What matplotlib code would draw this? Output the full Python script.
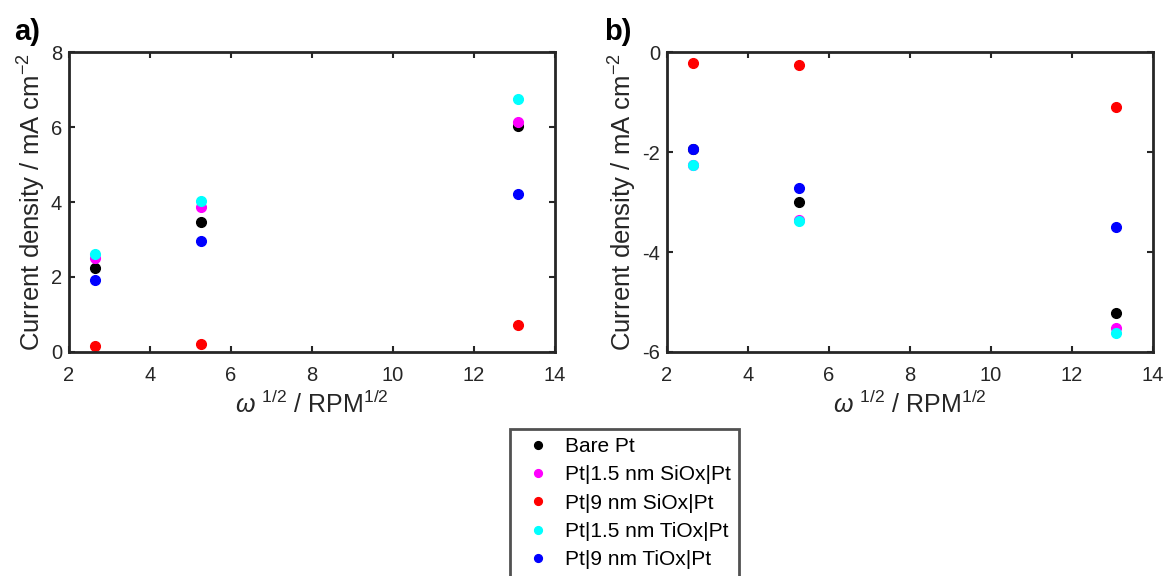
import matplotlib
matplotlib.use("Agg")
import matplotlib.pyplot as plt

plt.rcParams['font.family'] = ['Liberation Sans', 'DejaVu Sans']
plt.rcParams['mathtext.fontset'] = 'custom'
plt.rcParams['mathtext.rm'] = 'Liberation Sans'
plt.rcParams['mathtext.it'] = 'Liberation Sans:italic'
plt.rcParams['axes.unicode_minus'] = False

### Data ###
omega = [2.65, 5.25, 13.09]
labels = ['Bare Pt', 'Pt|1.5 nm SiOx|Pt', 'Pt|9 nm SiOx|Pt',
          'Pt|1.5 nm TiOx|Pt', 'Pt|9 nm TiOx|Pt']
colors = ['black', 'magenta', 'red', 'cyan', 'blue']

# panel a (positive current)
bare_a = [2.25, 3.48, 6.02]
sio15_a = [2.51, 3.88, 6.13]
sio9_a = [0.17, 0.21, 0.73]
tio15_a = [2.62, 4.04, 6.74]
tio9_a = [1.93, 2.97, 4.21]

# panel b (negative current)
bare_b = [-1.93, -3.00, -5.22]
sio15_b = [-2.25, -3.36, -5.52]
sio9_b = [-0.21, -0.26, -1.10]
tio15_b = [-2.25, -3.37, -5.63]
tio9_b = [-1.93, -2.71, -3.50]

series_a = [bare_a, sio15_a, sio9_a, tio15_a, tio9_a]
series_b = [bare_b, sio15_b, sio9_b, tio15_b, tio9_b]

fig = plt.figure(figsize=(11.67, 5.76), dpi=100)
ax_a = fig.add_axes([0.0591, 0.3889, 0.4165, 0.5208])
ax_b = fig.add_axes([0.5716, 0.3889, 0.4165, 0.5208])

xlab = r'$\omega$ $^{1/2}$ / RPM$^{1/2}$'
ylab = r'Current density / mA cm$^{-2}$'

handles = []
for ax, series, ylim, yticks in [(ax_a, series_a, (0, 8), [0, 2, 4, 6, 8]),
                                 (ax_b, series_b, (-6, 0), [-6, -4, -2, 0])]:
    for vals, c, lab in zip(series, colors, labels):
        h, = ax.plot(omega, vals, 'o', color=c, markersize=7, label=lab,
                     linestyle='none')
        if ax is ax_a:
            handles.append(h)
    ax.set_xlim(2, 14)
    ax.set_ylim(*ylim)
    ax.set_xticks([2, 4, 6, 8, 10, 12, 14])
    ax.set_yticks(yticks)
    ax.tick_params(direction='in', top=True, right=True, length=4, width=1.5,
                   labelsize=14.5, colors='#262626', labelcolor='#262626')
    ax.tick_params(axis='x', pad=10)
    ax.tick_params(axis='y', pad=5)
    for sp in ax.spines.values():
        sp.set_linewidth(2)
        sp.set_color('#262626')
    ax.set_xlabel(xlab, fontsize=18, color='#262626', labelpad=4)
    ax.set_ylabel(ylab, fontsize=18.5, color='#262626', labelpad=2)

fig.text(0.012, 0.944, 'a)', fontsize=21, fontweight='bold', va='center')
fig.text(0.518, 0.944, 'b)', fontsize=21, fontweight='bold', va='center')

leg = fig.legend(handles=handles, loc='upper left',
                 bbox_to_anchor=(0.437, 0.256), fontsize=15,
                 frameon=True, fancybox=False, edgecolor='#262626',
                 handlelength=1.9, handletextpad=0.35, labelspacing=0.45,
                 borderpad=0.4, borderaxespad=0, markerscale=0.8)
leg.get_frame().set_linewidth(2)

fig.savefig('out.png', dpi=100)
